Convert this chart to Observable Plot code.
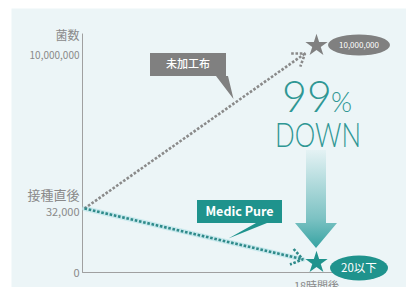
<!DOCTYPE html>
<html><head><meta charset="utf-8">
<script src="https://cdn.jsdelivr.net/npm/d3@7"></script>
<script src="https://cdn.jsdelivr.net/npm/@observablehq/plot@0.6"></script>
<style>
html,body{margin:0;padding:0;background:#fff;}
#chart svg{display:block;}
</style>
</head><body><div id="chart"></div>
<script>
// ---- data ----
const timeHours = [0, 18];
const seriesNames = ["未加工布", "Medic Pure"];
const untreatedCounts = [32000, 10000000];
const medicCounts = [32000, 20];
const endLabels = ["10,000,000", "20以下"];
const yTickValues = [10000000, 32000, 0];
const yTickLabels = ["10,000,000", "32,000", "0"];
const yTickTitles = ["", "接種直後", ""];
const yAxisTitle = "菌数";
const xTickLabel = "18時間後";
const reductionLabel = ["99", "%", "DOWN"];

// ---- styles ----
const GREY = "#808080", TEAL = "#1f938d", BG = "#ecf5f7", TXT = "#8a8a8a";
const JP = "'Noto Sans CJK JP','Noto Sans',sans-serif";
const axisTop = 10700000;

const series = [
  {name: seriesNames[0], color: GREY, dots: "#8a8a8a", halo: "none", start: untreatedCounts[0], end: untreatedCounts[1], label: endLabels[0]},
  {name: seriesNames[1], color: TEAL, dots: "#2f8a8a", halo: "#bfe6ea", start: medicCounts[0], end: medicCounts[1], label: endLabels[1]}
];
const ticks = yTickValues.map((v, i) => ({v, label: yTickLabels[i], title: yTickTitles[i]}));

function decorations(index, scales) {
  const x = scales.x, y = scales.y;
  const g = d3.create("svg:g");
  const defs = g.append("defs");
  const grad = defs.append("linearGradient").attr("id", "downGrad").attr("x1", 0).attr("y1", 0).attr("x2", 0).attr("y2", 1);
  grad.append("stop").attr("offset", "0%").attr("stop-color", "#e4f2f4");
  grad.append("stop").attr("offset", "70%").attr("stop-color", "#7cc2c3");
  grad.append("stop").attr("offset", "100%").attr("stop-color", "#36a3a2");

  const cx = x(timeHours[1]);
  // big down arrow
  const top = y(untreatedCounts[1]) + 105, tip = y(medicCounts[1]) - 14;
  const headTop = tip - 25, sw = 10, hw = 21;
  g.append("path")
    .attr("d", `M${cx - sw},${top}L${cx + sw},${top}L${cx + sw},${headTop}L${cx + hw},${headTop}L${cx},${tip}L${cx - hw},${headTop}L${cx - sw},${headTop}Z`)
    .attr("fill", "url(#downGrad)");

  // 99% DOWN
  const t = g.append("text").attr("x", cx + 1).attr("y", y(untreatedCounts[1]) + 67)
    .attr("text-anchor", "middle").attr("fill", "#2f9794")
    .style("font-family", "Lato,'Open Sans',sans-serif").style("font-weight", 300);
  t.append("tspan").attr("font-size", 43).text(reductionLabel[0]);
  t.append("tspan").attr("font-size", 27).attr("dx", -1).text(reductionLabel[1]);
  g.append("text").attr("x", cx + 2).attr("y", y(untreatedCounts[1]) + 102)
    .attr("text-anchor", "middle").attr("fill", "#2f9794")
    .attr("font-size", 34).attr("textLength", 86).attr("lengthAdjust", "spacingAndGlyphs")
    .style("font-family", "Lato,'Open Sans',sans-serif").style("font-weight", 300)
    .text(reductionLabel[2]);

  // end-value ellipses
  const ellipses = [
    {s: series[0], dy: 0, rx: 31, ry: 10.5, fs: 8},
    {s: series[1], dy: 6, rx: 29, ry: 12.5, fs: 11.5}
  ];
  for (const e of ellipses) {
    const ey = y(e.s.end) + e.dy, ex = cx + 43;
    g.append("ellipse").attr("cx", ex).attr("cy", ey).attr("rx", e.rx).attr("ry", e.ry).attr("fill", e.s.color);
    g.append("text").attr("x", ex).attr("y", ey).attr("dy", "0.35em").attr("text-anchor", "middle")
      .attr("fill", "#fff").attr("font-size", e.fs).style("font-family", JP).text(e.s.label);
  }

  // callouts
  const callouts = [
    {s: series[0], tx: 11.6, bx: 150, by: 53, bw: 76, bh: 23, t0: 216, t1: 228, tipDy: -4, fs: 11, fw: 500},
    {s: series[1], tx: 11.2, bx: 197, by: 200, bw: 85, bh: 23, t0: 256, t1: 267, tipDy: -3, fs: 12.5, fw: 700}
  ];
  for (const c of callouts) {
    const px = x(c.tx);
    const frac = c.tx / timeHours[1];
    const py0 = y(c.s.start), py1 = y(c.s.end);
    const py = py0 + (py1 - py0) * frac + c.tipDy;
    g.append("path")
      .attr("d", `M${c.bx},${c.by}h${c.bw}v${c.bh}H${c.t1}L${px},${py}L${c.t0},${c.by + c.bh}H${c.bx}Z`)
      .attr("fill", c.s.color);
    g.append("text").attr("x", c.bx + c.bw / 2).attr("y", c.by + c.bh / 2).attr("dy", "0.35em")
      .attr("text-anchor", "middle").attr("fill", "#fff").attr("font-size", c.fs)
      .attr("font-weight", c.fw).style("font-family", JP).text(c.s.name);
  }
  return g.node();
}

const arrowOpts = {x1: () => timeHours[0], y1: "start", x2: () => timeHours[1], y2: "end",
  headAngle: 70, insetEnd: 14, bend: 0};

const plot = Plot.plot({
  width: 406,
  height: 287,
  marginLeft: 11, marginTop: 8, marginRight: 0, marginBottom: 0,
  style: {background: "#fff", fontFamily: JP, overflow: "hidden"},
  x: {domain: [0, 18], range: [84, 316], axis: null},
  y: {type: "linear", domain: [0, 20, 32000, 10000000], range: [272, 262, 208, 45], axis: null},
  marks: [
    Plot.frame({fill: BG, stroke: null}),
    Plot.ruleX([0], {x: d => d, y1: 0, y2: axisTop, stroke: "#a0a0a0", strokeWidth: 1, dx: -2}),
    Plot.ruleY([0], {y: d => d, x1: -0.15, x2: 20, stroke: "#a0a0a0", strokeWidth: 1}),
    // y tick labels
    Plot.text(ticks.filter(d => d.v === 10000000), {x: () => 0, y: "v", text: "label", textAnchor: "end", dx: -5, dy: 10, fill: TXT, fontSize: 10}),
    Plot.text(ticks.filter(d => d.v === 32000), {x: () => 0, y: "v", text: "label", textAnchor: "end", dx: -5, dy: 4, fill: TXT, fontSize: 11}),
    Plot.text(ticks.filter(d => d.v === 32000), {x: () => 0, y: "v", text: "title", textAnchor: "end", dx: -5, dy: -13, fill: TXT, fontSize: 13}),
    Plot.text(ticks.filter(d => d.v === 0), {x: () => 0, y: "v", text: "label", textAnchor: "end", dx: -5, dy: 1, fill: TXT, fontSize: 11}),
    Plot.text([yAxisTitle], {x: () => 0, y: () => axisTop, text: d => d, textAnchor: "end", dx: -5, dy: 2, fill: TXT, fontSize: 12}),
    Plot.text([xTickLabel], {x: () => timeHours[1], y: () => 0, text: d => d, dy: 14, fill: TXT, fontSize: 11}),
    // halo under teal line (no head)
    Plot.arrow(series, {...arrowOpts, headLength: 0, stroke: "halo", strokeWidth: 5, strokeOpacity: 0.8}),
    // dotted trend arrows
    Plot.arrow(series, {...arrowOpts, headLength: 8, stroke: "dots", strokeWidth: 2.6}),
    decorations,
    // stars
    Plot.dot(series, {x: () => timeHours[1], y: "end", symbol: "star", r: 7, fill: "color", stroke: null})
  ]
});
// dotted pattern on the trend arrows
const arrowGroups = plot.querySelectorAll('g[aria-label="arrow"]');
arrowGroups.forEach((grp, i) => {
  if (i === arrowGroups.length - 1) {
    grp.querySelectorAll("path").forEach(p => { p.style.strokeDasharray = "2.6,1.7"; p.style.strokeLinecap = "butt"; });
  }
});
document.getElementById("chart").append(plot);
</script>
</body></html>
